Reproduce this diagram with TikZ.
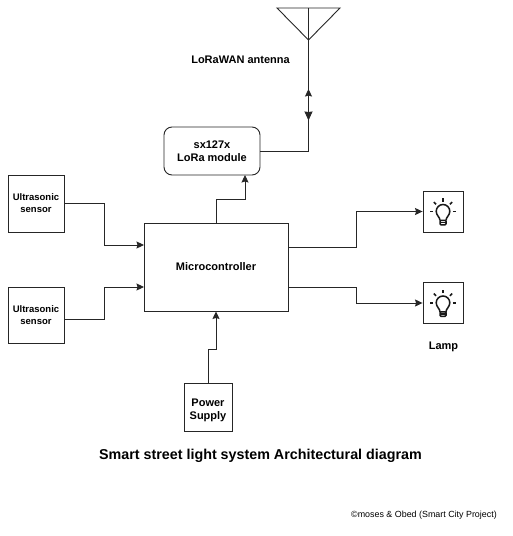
\documentclass[tikz,border=0pt]{standalone}
\usepackage{fontspec}
\setmainfont{Liberation Sans}
\usetikzlibrary{arrows.meta}
\tikzset{
	wire/.style={draw=black!85, line width=0.9pt},
	arrowwire/.style={wire, -{Stealth[length=7.5pt,width=7pt,inset=1pt]}},
	blockbox/.style 2 args={draw=black!85, line width=0.9pt, align=center, font=\bfseries\fontsize{#1}{#2}\selectfont, inner sep=0pt},
	caption/.style={align=center, inner sep=0pt, font=\bfseries\fontsize{11}{13}\selectfont}
}
\newcommand{\lampicon}[1]{
	\begin{scope}[shift={(#1)}, yscale=-1, line width=1.5pt, draw=black!90]
		\draw (-3,-9) .. controls (-3,-6) and (-6.8,-4) .. (-6.8,0) arc (180:0:6.8) .. controls (6.8,-4) and (3,-6) .. (3,-9);
		\draw[rounded corners=1pt] (-3,-9) -- (-3,-13.5) -- (3,-13.5) -- (3,-9) -- cycle;
		\draw (-3,-11) -- (3,-11);
		\foreach \a in {0,45,90,135,180}
			\draw (\a:9.8) -- (\a:13);
	\end{scope}
}
\begin{document}
\begin{tikzpicture}[x=1pt, y=-1pt]
\useasboundingbox (0,0) rectangle (513,536);
\fill[white] (0,0) rectangle (513,536);

% blocks
\node[blockbox={9.5}{12}, minimum width=56pt, minimum height=57pt] (sensorA) at (36,203.5) {Ultrasonic\\sensor};
\node[blockbox={9.5}{12}, minimum width=56pt, minimum height=56pt] (sensorB) at (36,315.5) {Ultrasonic\\sensor};
\node[blockbox={11}{13.5}, minimum width=144pt, minimum height=88pt] (micro) at (216,267) {\raisebox{-1pt}{Microcontroller}};
\node[blockbox={11}{13.5}, minimum width=96pt, minimum height=48pt, rounded corners=8pt] (lora) at (212,151) {sx127x\\LoRa module};
\node[blockbox={11}{13}, minimum width=48pt, minimum height=48pt] (power) at (208,407) {\rule{0pt}{14pt}Power\\Supply};
\node[blockbox={11}{13}, minimum width=40pt, minimum height=41pt] (lampA) at (443,211.5) {};
\node[blockbox={11}{13}, minimum width=40pt, minimum height=41pt] (lampB) at (443,303) {};

% antenna
\coordinate (antLeft) at (277,8);
\coordinate (antRight) at (340,8);
\coordinate (antTip) at (308.5,40);
\coordinate (antTop) at (308.5,8);
\coordinate (arrowUp) at (308.5,89);
\coordinate (arrowDown) at (308.5,120.5);
\draw[wire] (antLeft) -- (antRight) -- (antTip) -- cycle;
\draw[wire] (antTop) -- (antTip);
\draw[wire, -{Stealth[length=9pt,width=8pt,inset=0.5pt]}] (antTip) -- (arrowDown);
\draw[arrowwire] (lora.east) -| (arrowUp);

% bulbs
\lampicon{443,211.3}
\lampicon{443,302.8}

% connectors
\coordinate (microInA) at (144,245);
\coordinate (microInB) at (144,287);
\coordinate (microOutA) at (288,247);
\coordinate (microOutB) at (288,287);
\coordinate (microUp) at (216,223);
\coordinate (loraIn) at (245,175);
\draw[arrowwire] (sensorA.east) -- (104,203.5) |- (microInA);
\draw[arrowwire] (sensorB.east |- 0,319) -- (104,319) |- (microInB);
\draw[arrowwire] (microOutA) -- (356,247) |- (lampA.west);
\draw[arrowwire] (microOutB) -- (356,287) |- (lampB.west);
\draw[arrowwire] (microUp) -- (216,199) -- (245,199) -- (loraIn);
\draw[arrowwire] (power.north) -- (208,349) -- (216,349) -- (micro.south);

% labels
\node[caption] (antennaLabel) at (240.5,59.5) {LoRaWAN antenna};
\node[caption] (lampLabel) at (443.5,347) {Lamp};
\node[caption, font=\bfseries\fontsize{14.3}{16}\selectfont] (titleLabel) at (260.5,456) {Smart street light system Architectural diagram};
\node[inner sep=0pt, font=\fontsize{8.9}{11}\selectfont] (creditLabel) at (424,515.5) {©moses \& Obed (Smart City Project)};

\end{tikzpicture}
\end{document}
